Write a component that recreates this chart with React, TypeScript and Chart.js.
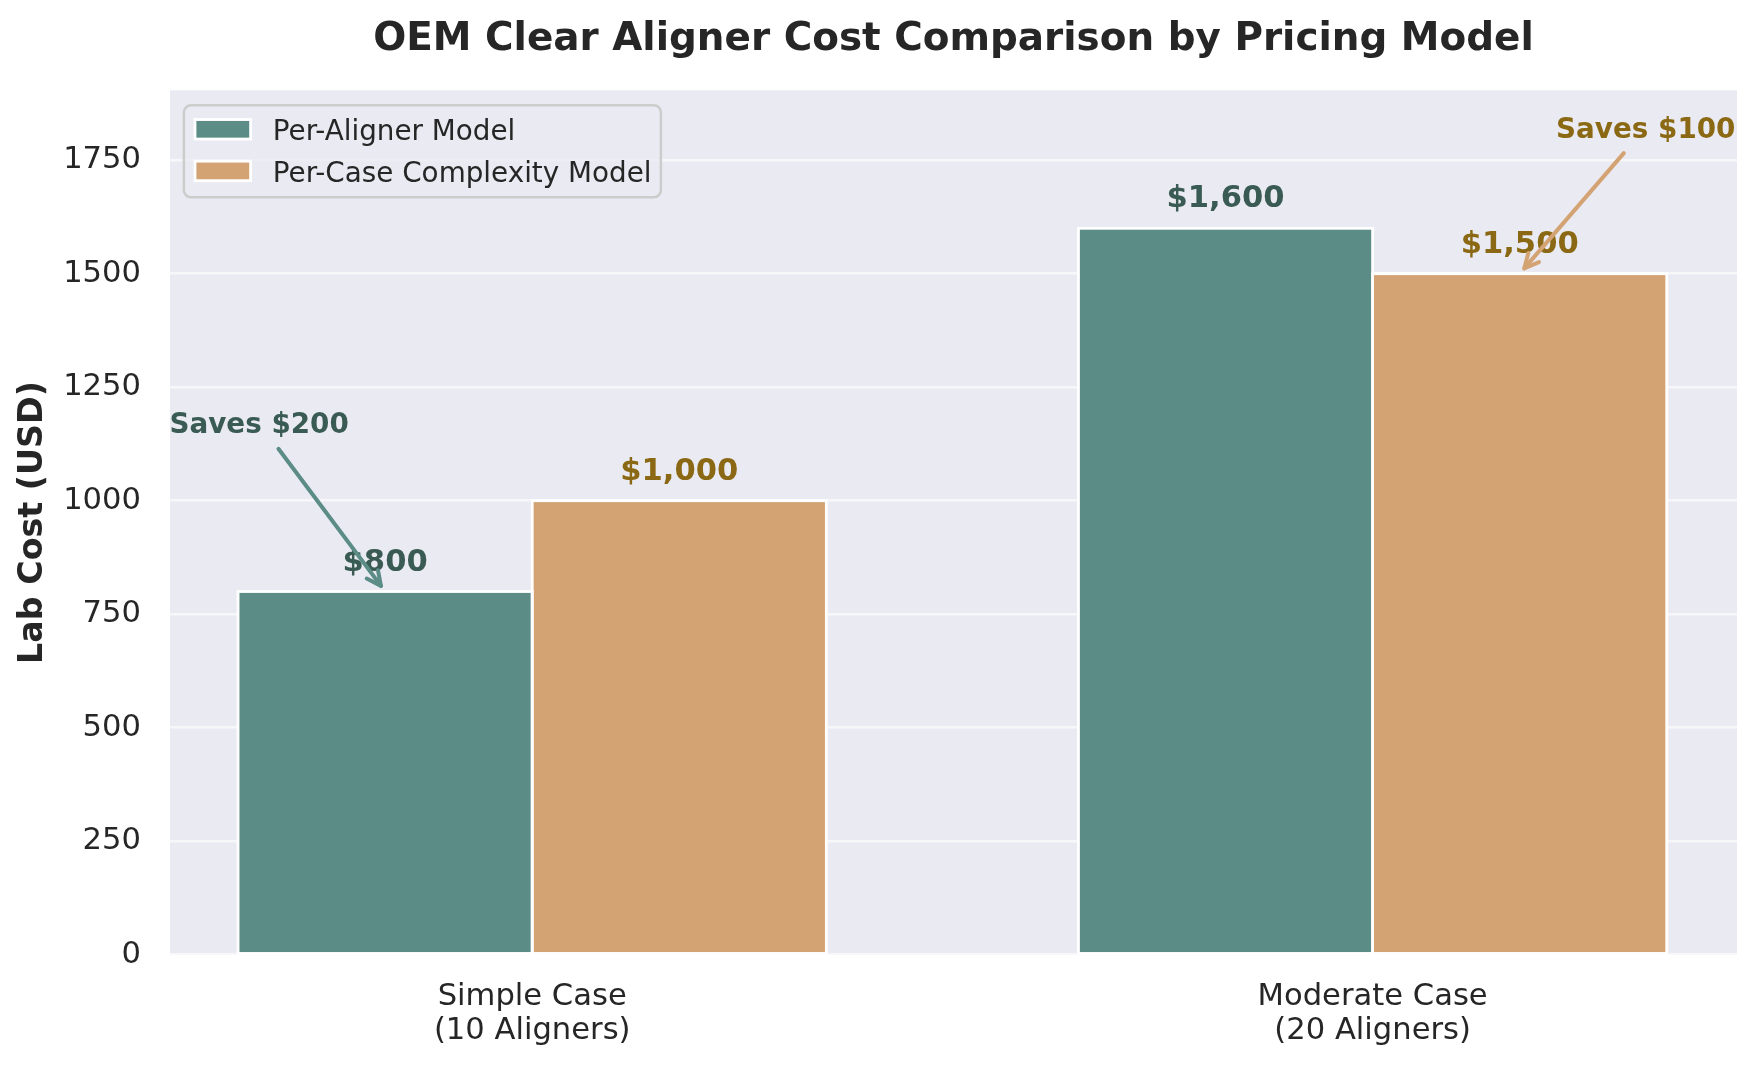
import { useEffect, useRef } from "react";
import { Chart, registerables } from "chart.js";

Chart.register(...registerables);

// ---- data -------------------------------------------------------------
const TITLE = "OEM Clear Aligner Cost Comparison by Pricing Model";
const Y_LABEL = "Lab Cost (USD)";
const CATEGORIES: string[][] = [
  ["Simple Case", "(10 Aligners)"],
  ["Moderate Case", "(20 Aligners)"],
];
const SERIES_NAMES = ["Per-Aligner Model", "Per-Case Complexity Model"];
const PER_ALIGNER = [800, 1600];
const PER_CASE = [1000, 1500];
const Y_TICKS = [0, 250, 500, 750, 1000, 1250, 1500, 1750];
const Y_MAX = 1904;

// ---- styling ----------------------------------------------------------
const FONT = "'DejaVu Sans', 'Liberation Sans', sans-serif";
const BAR_COLORS = ["#5B8C85", "#D4A373"];
const LABEL_COLORS = ["#3A5B53", "#8B6914"];
const TEXT_COLOR = "#262626";
const PLOT_BG = "#EAEAF2";
const BAR_WIDTH = 0.35;
const BAR_EDGE = 2.8;
const X_MIN = -0.431;
const X_MAX = 1.4336;
// where each "Saves" note sits relative to the cheaper bar it points at
const NOTE_PLACEMENT = [
  { dx: -0.15, y: 1150 },
  { dx: 0.15, y: 1800 },
];

const SERIES = [PER_ALIGNER, PER_CASE];
const money = (v: number) => "$" + v.toLocaleString("en-US");

function drawArrow(ctx: CanvasRenderingContext2D, fx: number, fy: number, tx: number, ty: number, color: string) {
  ctx.save();
  ctx.strokeStyle = color;
  ctx.lineWidth = 4;
  ctx.lineCap = "round";
  ctx.lineJoin = "round";
  ctx.beginPath();
  ctx.moveTo(fx, fy);
  ctx.lineTo(tx, ty);
  ctx.stroke();
  const ang = Math.atan2(ty - fy, tx - fx);
  const len = 16;
  const spread = (26 * Math.PI) / 180;
  ctx.beginPath();
  ctx.moveTo(tx - len * Math.cos(ang - spread), ty - len * Math.sin(ang - spread));
  ctx.lineTo(tx, ty);
  ctx.lineTo(tx - len * Math.cos(ang + spread), ty - len * Math.sin(ang + spread));
  ctx.stroke();
  ctx.restore();
}

const plotBackground = {
  id: "plotBackground",
  beforeDraw(chart: any) {
    const { ctx, chartArea } = chart;
    ctx.save();
    ctx.fillStyle = PLOT_BG;
    ctx.fillRect(chartArea.left, chartArea.top, chartArea.right - chartArea.left, chartArea.bottom - chartArea.top);
    ctx.restore();
  },
};

// white outlines centred on each bar's edge
const barEdges = {
  id: "barEdges",
  afterDatasetsDraw(chart: any) {
    const { ctx, chartArea } = chart;
    ctx.save();
    ctx.beginPath();
    ctx.rect(chartArea.left, chartArea.top, chartArea.right - chartArea.left, chartArea.bottom - chartArea.top);
    ctx.clip();
    ctx.strokeStyle = "#FFFFFF";
    ctx.lineWidth = BAR_EDGE;
    chart.data.datasets.forEach((_: any, di: number) => {
      chart.getDatasetMeta(di).data.forEach((el: any) => {
        const { x, y, base, width } = el.getProps(["x", "y", "base", "width"], true);
        ctx.strokeRect(x - width / 2, Math.min(y, base), width, Math.abs(base - y));
      });
    });
    ctx.restore();
  },
};

const overlay = {
  id: "overlay",
  afterDraw(chart: any) {
    const { ctx, chartArea } = chart;
    const xs = chart.scales.x;
    const ys = chart.scales.y;
    const { left, right, top, bottom } = chartArea;
    ctx.save();

    // title
    ctx.fillStyle = TEXT_COLOR;
    ctx.font = `bold 38.9px ${FONT}`;
    ctx.textAlign = "center";
    ctx.textBaseline = "alphabetic";
    ctx.fillText(TITLE, (left + right) / 2, 49.5);

    // y axis title
    ctx.save();
    ctx.translate(33, (top + bottom) / 2);
    ctx.rotate(-Math.PI / 2);
    ctx.font = `bold 33.3px ${FONT}`;
    ctx.textBaseline = "middle";
    ctx.fillText(Y_LABEL, 0, 0);
    ctx.restore();

    // value labels above bars
    const vfs = 30.6;
    ctx.font = `bold ${vfs}px ${FONT}`;
    ctx.textAlign = "center";
    ctx.textBaseline = "alphabetic";
    SERIES.forEach((vals, s) => {
      ctx.fillStyle = LABEL_COLORS[s];
      vals.forEach((v, i) => {
        const cx = xs.getPixelForValue(i + (s === 0 ? -BAR_WIDTH / 2 : BAR_WIDTH / 2));
        const y = ys.getPixelForValue(v + 30) - 0.236 * vfs;
        ctx.fillText(money(v), cx, y);
      });
    });

    // savings notes with arrows pointing at the cheaper bar
    const nfs = 27.8;
    ctx.font = `bold ${nfs}px ${FONT}`;
    CATEGORIES.forEach((_, i) => {
      const a = PER_ALIGNER[i];
      const b = PER_CASE[i];
      const s = a <= b ? 0 : 1;
      const cheap = Math.min(a, b);
      const text = `Saves ${money(Math.abs(a - b))}`;
      const barX = i + (s === 0 ? -BAR_WIDTH / 2 : BAR_WIDTH / 2);
      const place = NOTE_PLACEMENT[i];
      const tx = xs.getPixelForValue(barX + place.dx);
      const ty = ys.getPixelForValue(place.y);
      ctx.fillStyle = LABEL_COLORS[s];
      ctx.textAlign = "center";
      ctx.fillText(text, tx, ty);

      const w = ctx.measureText(text).width;
      const cx = tx;
      const cy = ty - 0.35 * nfs;
      const halfW = w / 2;
      const halfH = 0.586 * nfs;
      const px = xs.getPixelForValue(barX);
      const py = ys.getPixelForValue(cheap);
      const dx = px - cx;
      const dy = py - cy;
      const d = Math.hypot(dx, dy);
      const ux = dx / d;
      const uy = dy / d;
      const tExit = Math.min(halfW / Math.abs(ux || 1e-9), halfH / Math.abs(uy || 1e-9));
      const sx = cx + ux * (tExit + 12);
      const sy = cy + uy * (tExit + 12);
      drawArrow(ctx, sx, sy, px - ux * 7, py - uy * 7, BAR_COLORS[s]);
    });

    // legend
    const lfs = 27.8;
    const bx = left + 13.9;
    const by = top + 15;
    const bw = 477;
    const bh = 92;
    ctx.beginPath();
    ctx.roundRect(bx, by, bw, bh, 7);
    ctx.fillStyle = "rgba(234,234,242,0.8)";
    ctx.fill();
    ctx.lineWidth = 2.5;
    ctx.strokeStyle = "#CCCCCC";
    ctx.stroke();
    ctx.font = `${lfs}px ${FONT}`;
    ctx.textAlign = "left";
    SERIES_NAMES.forEach((name, s) => {
      const rowC = by + 24 + s * 41.6;
      const hx = bx + 11.1;
      const hw = 55.6;
      const hh = 19.5;
      ctx.fillStyle = BAR_COLORS[s];
      ctx.fillRect(hx, rowC - hh / 2, hw, hh);
      ctx.lineWidth = BAR_EDGE;
      ctx.strokeStyle = "#FFFFFF";
      ctx.strokeRect(hx, rowC - hh / 2, hw, hh);
      ctx.fillStyle = TEXT_COLOR;
      ctx.textBaseline = "alphabetic";
      ctx.fillText(name, hx + hw + 22.2, rowC + 10.8);
    });

    ctx.restore();
  },
};

export default function App() {
  const ref = useRef<HTMLCanvasElement | null>(null);

  useEffect(() => {
    if (!ref.current) return;
    const datasets = SERIES.map((vals, s) => ({
      label: SERIES_NAMES[s],
      data: vals.map((v, i) => ({ x: i + (s === 0 ? -BAR_WIDTH / 2 : BAR_WIDTH / 2), y: v })),
      backgroundColor: BAR_COLORS[s],
      borderWidth: 0,
      grouped: false,
      categoryPercentage: 1,
      barPercentage: 1,
    }));

    const chart = new Chart(ref.current, {
      type: "bar",
      data: { datasets: datasets as any },
      options: {
        responsive: false,
        animation: false,
        devicePixelRatio: 1,
        layout: { padding: { top: 90.3, left: 0, right: 20, bottom: 0 } },
        plugins: { legend: { display: false }, tooltip: { enabled: false }, title: { display: false } },
        scales: {
          x: {
            type: "linear",
            offset: false,
            min: X_MIN,
            max: X_MAX,
            grid: { display: false, drawTicks: false, offset: false },
            border: { display: false },
            afterBuildTicks: (scale: any) => {
              scale.ticks = CATEGORIES.map((_, i) => ({ value: i }));
            },
            afterFit: (scale: any) => {
              scale.height = 110.3;
            },
            ticks: {
              autoSkip: false,
              maxRotation: 0,
              minRotation: 0,
              padding: 25.5,
              color: TEXT_COLOR,
              font: { family: FONT, size: 30.6, lineHeight: 1.111 },
              callback: (v: any) => CATEGORIES[Math.round(Number(v))] ?? "",
            },
          },
          y: {
            type: "linear",
            min: 0,
            max: Y_MAX,
            grid: { color: "rgba(255,255,255,0.6)", lineWidth: 2.5, drawTicks: false },
            border: { display: false },
            afterBuildTicks: (scale: any) => {
              scale.ticks = Y_TICKS.map((v) => ({ value: v }));
            },
            afterFit: (scale: any) => {
              scale.width = 170;
            },
            ticks: {
              padding: 29,
              color: TEXT_COLOR,
              font: { family: FONT, size: 30.6 },
              callback: (v: any) => String(v),
            },
          },
        },
      },
      plugins: [plotBackground, barEdges, overlay],
    });
    return () => chart.destroy();
  }, []);

  return (
    <div style={{ position: "fixed", left: 0, top: 0, width: 1757, height: 1065, background: "#FFFFFF" }}>
      <canvas ref={ref} width={1757} height={1065} style={{ display: "block" }} />
    </div>
  );
}
